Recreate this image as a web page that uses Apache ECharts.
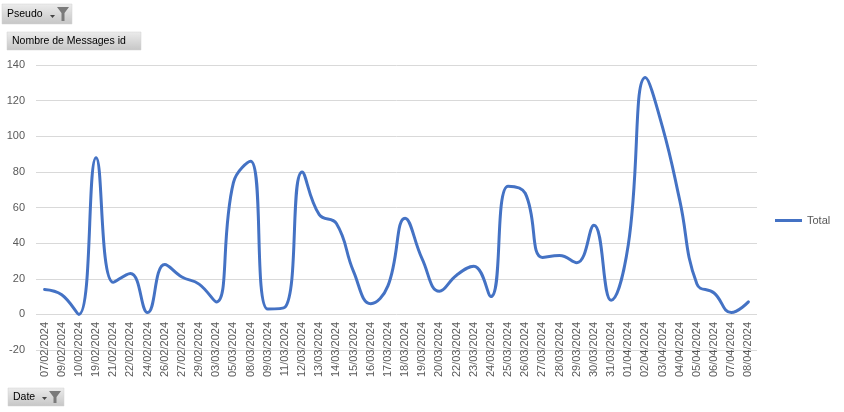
<!DOCTYPE html>
<html>
<head>
<meta charset="utf-8">
<script src="https://cdn.jsdelivr.net/npm/echarts@6/dist/echarts.min.js"></script>
<style>
  html, body { margin: 0; padding: 0; background: #fff; }
  #main { width: 844px; height: 412px; }
</style>
</head>
<body>
<div id="main"></div>
<script>
// dates (categories)
const dates = [
    '07/02/2024', '09/02/2024', '10/02/2024', '19/02/2024', '21/02/2024', '22/02/2024',
    '24/02/2024', '26/02/2024', '27/02/2024', '29/02/2024', '03/03/2024', '05/03/2024',
    '08/03/2024', '09/03/2024', '11/03/2024', '12/03/2024', '13/03/2024', '14/03/2024',
    '15/03/2024', '16/03/2024', '17/03/2024', '18/03/2024', '19/03/2024', '20/03/2024',
    '22/03/2024', '23/03/2024', '24/03/2024', '25/03/2024', '26/03/2024', '27/03/2024',
    '28/03/2024', '29/03/2024', '30/03/2024', '31/03/2024', '01/04/2024', '02/04/2024',
    '03/04/2024', '04/04/2024', '05/04/2024', '06/04/2024', '07/04/2024', '08/04/2024'
];

// Nombre de Messages id
const totals = [
    14, 11, 0, 88, 18, 23,
    1, 28, 21, 17, 7, 74,
    86, 3, 4, 80, 56, 51,
    24, 6, 16, 54, 31, 13,
    22, 27, 10, 72, 68, 32,
    33, 29, 50, 8, 39, 133,
    105, 64, 17, 12, 1, 7
];

const yTicks = { min: -20, max: 140, interval: 20 };

const FONT = 'Liberation Sans';

// petit bouton gris façon tableau croisé dynamique
function fieldButton(x, y, w, h, label, withFilter) {
    const children = [
        {
            type: 'rect',
            shape: { x: 0, y: 0, width: w, height: h },
            style: {
                fill: new echarts.graphic.LinearGradient(0, 0, 0, 1, [
                    { offset: 0, color: '#ececec' },
                    { offset: 1, color: '#c6c6c6' }
                ]),
                stroke: '#d0d0d0',
                lineWidth: 0.5
            }
        },
        {
            type: 'text',
            style: {
                x: 5, y: h / 2 + 0.5,
                text: label,
                fill: '#000',
                font: '10.5px "' + FONT + '"',
                verticalAlign: 'middle'
            }
        }
    ];
    if (withFilter) {
        // flèche + entonnoir
        children.push({
            type: 'polygon',
            shape: { points: [[w - 22, h - 9], [w - 17, h - 9], [w - 19.5, h - 6]] },
            style: { fill: '#444' }
        });
        children.push({
            type: 'polygon',
            shape: { points: [[w - 15, 3], [w - 3, 3], [w - 7.5, 9], [w - 7.5, h - 3], [w - 10.5, h - 3], [w - 10.5, 9]] },
            style: { fill: '#7a7a7a' }
        });
    }
    return { type: 'group', x: x, y: y, children: children };
}

const chart = echarts.init(document.getElementById('main'));

const option = {
    animation: false,
    backgroundColor: '#fff',
    textStyle: { fontFamily: FONT },
    grid: {
        left: 36,
        right: 87,
        top: 65,
        bottom: 62,
        containLabel: false,
        outerBoundsMode: 'none'
    },
    legend: {
        left: 770,
        top: 210,
        icon: 'rect',
        itemWidth: 27,
        itemHeight: 3,
        itemGap: 4,
        textStyle: { fontSize: 11, color: '#595959', fontFamily: FONT },
        data: ['Total']
    },
    xAxis: {
        type: 'category',
        data: dates,
        boundaryGap: true,
        axisLine: { show: false },
        axisTick: { show: false },
        axisLabel: {
            rotate: 90,
            interval: 0,
            // étiquettes collées sous la ligne du zéro
            margin: -28,
            fontSize: 11,
            color: '#595959',
            fontFamily: FONT
        },
        splitLine: { show: false }
    },
    yAxis: {
        type: 'value',
        min: yTicks.min,
        max: yTicks.max,
        interval: yTicks.interval,
        axisLine: { show: false },
        axisTick: { show: false },
        axisLabel: {
            margin: 11,
            fontSize: 11,
            color: '#595959',
            fontFamily: FONT
        },
        splitLine: { lineStyle: { color: '#d9d9d9', width: 1 } }
    },
    series: [
        {
            name: 'Total',
            type: 'line',
            data: totals,
            smooth: 0.45,
            showSymbol: false,
            symbol: 'none',
            lineStyle: { color: '#4472c4', width: 3, cap: 'round', join: 'round' },
            itemStyle: { color: '#4472c4' }
        }
    ],
    graphic: [
        fieldButton(2, 4, 70, 20, 'Pseudo', true),
        fieldButton(7, 32, 134, 18, 'Nombre de Messages id', false),
        fieldButton(8, 388, 56, 18, 'Date', true)
    ]
};

chart.setOption(option);

window.addEventListener('resize', function () {
    chart.resize();
});
</script>
</body>
</html>
